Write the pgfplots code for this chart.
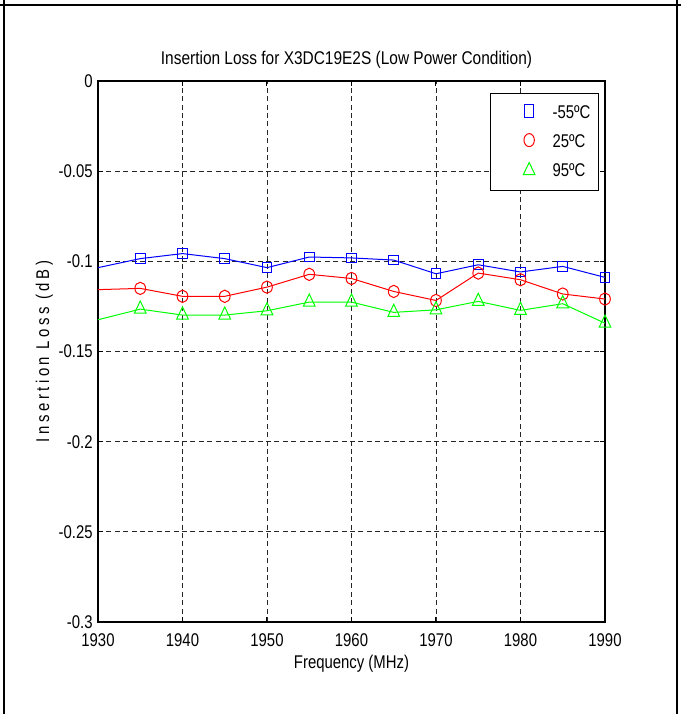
\documentclass[border=0pt]{standalone}
\usepackage{fontspec}
\setmainfont{Liberation Sans}[FakeStretch=0.81]
\newfontfamily\titlefont{Liberation Sans}[FakeStretch=0.84]
\usepackage{pgfplots}
\usepackage{pgfplotstable}
\pgfplotsset{compat=1.18}

\pgfplotstableread{
f    m55     p25     p95
1930 -0.1035 -0.1157 -0.1324
1935 -0.0985 -0.1150 -0.1265
1940 -0.0957 -0.1194 -0.1298
1945 -0.0985 -0.1194 -0.1298
1950 -0.1035 -0.1143 -0.1274
1955 -0.0976 -0.1072 -0.1226
1960 -0.0981 -0.1095 -0.1226
1965 -0.0993 -0.1167 -0.1283
1970 -0.1069 -0.1217 -0.1269
1975 -0.1019 -0.1065 -0.1222
1980 -0.1059 -0.1102 -0.1272
1985 -0.1028 -0.1181 -0.1235
1990 -0.1089 -0.1209 -0.1343
}\ildata

\newcommand{\lab}{\fontsize{9.2}{11}\selectfont}

\begin{document}
\begin{tikzpicture}
\useasboundingbox (0,0) rectangle (340.5pt,357pt);
% frame round the figure
\draw[line width=1pt] (0,354.25pt) -- (340.5pt,354.25pt);
\draw[line width=1pt] (1.85pt,0) -- (1.85pt,357pt);
\draw[line width=1.2pt] (338.6pt,0) -- (338.6pt,357pt);

\begin{axis}[
    at={(49pt,46pt)}, anchor=south west,
    scale only axis,
    width=253.5pt, height=270.5pt,
    xmin=1930, xmax=1990,
    ymin=-0.3, ymax=0,
    xtick={1930,1940,...,1990},
    ytick={-0.3,-0.25,-0.2,-0.15,-0.1,-0.05,0},
    xticklabels={1930,1940,1950,1960,1970,1980,1990},
    yticklabels={-0.3,-0.25,-0.2,-0.15,-0.1,-0.05,0},
    /pgf/number format/assume math mode=true,
    font=\lab,
    ticklabel style={font=\lab},
    xticklabel style={anchor=base, yshift=-12pt},
    yticklabel style={anchor=east, inner sep=0pt, xshift=-2.5pt},
    tick align=inside,
    major tick length=2.5pt,
    tick style={black, line width=0.5pt},
    axis line style={line width=0.8pt},
    grid=major,
    major grid style={black!85, line width=0.4pt, dash pattern=on 2.5pt off 1.7pt},
    title={Insertion Loss for X3DC19E2S (Low Power Condition)},
    title style={at={(axis description cs:0.5,1)}, anchor=base, yshift=2.5pt, xshift=-2.5pt, font=\titlefont\lab},
    xlabel={Frequency (MHz)},
    xlabel style={at={(axis description cs:0.5,0)}, anchor=base, yshift=-23pt, font=\lab},
    ylabel={\addfontfeature{LetterSpace=19}Insertion Loss (dB)},
    ylabel style={at={(axis description cs:-0.0966,0.5)}, anchor=base, font=\lab},
    legend style={
        at={(axis description cs:0.988,0.978)}, anchor=north east,
        draw=black, line width=0.5pt, fill=white,
        inner xsep=4pt, inner ysep=5.5pt,
        nodes={inner sep=0pt, font=\lab, anchor=base west},
        row sep=6pt, column sep=1.5pt,
    },
    legend cell align=left,
]
\addplot[blue, line width=0.5pt, mark=square, mark size=2.4pt,
    mark indices={2,...,13}, mark options={solid},
    legend image code/.code={
        \path (0pt,0pt) (25pt,0pt);
        \draw[blue, line width=0.5pt] (12.67pt,0.3pt) rectangle (17.33pt,6.6pt);
    }]
    table[x=f, y=m55] {\ildata};
\addlegendentry{-55ºC}
\addplot[red, line width=0.5pt, mark=o, mark size=2.67pt,
    mark indices={2,...,13}, mark options={solid, yscale=1.15},
    legend image code/.code={
        \path (0pt,0pt) (25pt,0pt);
        \draw[red, line width=0.5pt] (15pt,3.45pt) ellipse [x radius=2.6pt, y radius=3.25pt];
    }]
    table[x=f, y=p25] {\ildata};
\addlegendentry{25ºC}
\addplot[green, line width=0.5pt, mark=triangle, mark size=3.38pt,
    mark indices={2,...,13}, mark options={solid, yscale=1.2},
    legend image code/.code={
        \path (0pt,0pt) (25pt,0pt);
        \draw[green, line width=0.5pt] (15pt,6.9pt) -- (17.93pt,0.8pt) -- (12.07pt,0.8pt) -- cycle;
    }]
    table[x=f, y=p95] {\ildata};
\addlegendentry{95ºC}
\end{axis}
\end{tikzpicture}
\end{document}
